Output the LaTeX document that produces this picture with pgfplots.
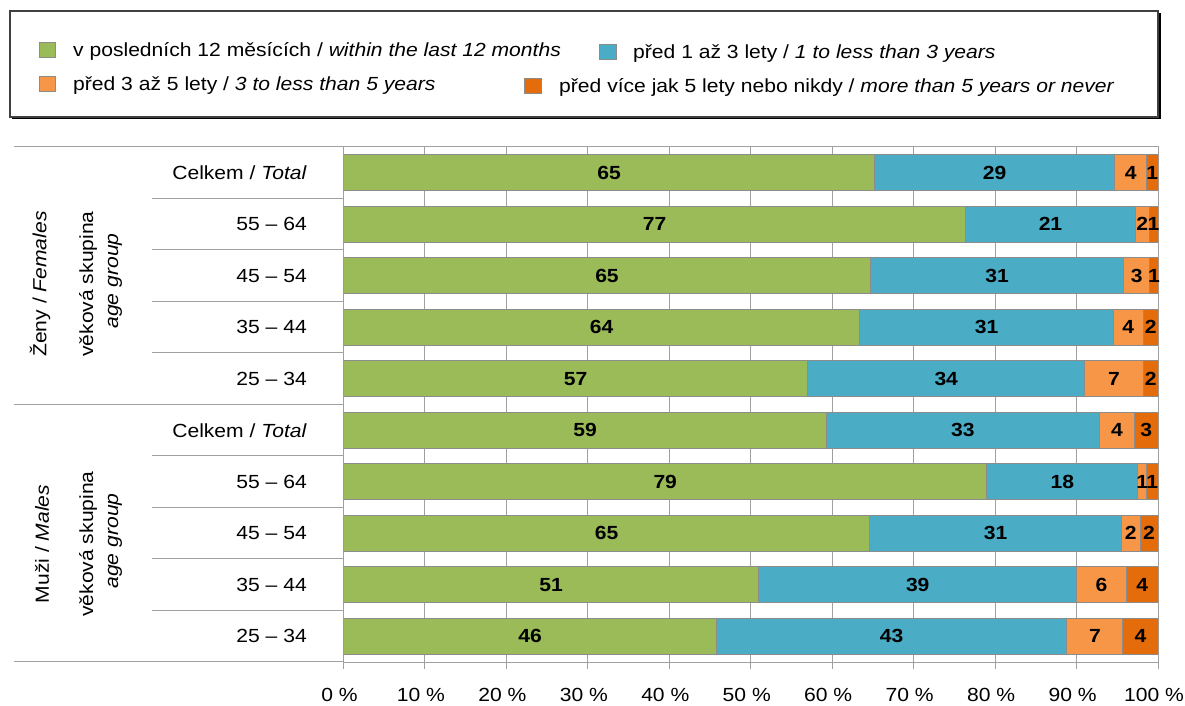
\documentclass[border=0pt]{standalone}
\usepackage{fontspec}
\setmainfont{Liberation Sans}[FakeStretch=1.11]
\usepackage{pgfplots}
\usepackage{pgfplotstable}
\pgfplotsset{compat=1.18}
\definecolor{cgreen}{RGB}{155,187,89}
\definecolor{cblue}{RGB}{75,172,198}
\definecolor{corange}{RGB}{247,150,70}
\definecolor{cdark}{RGB}{228,108,10}
\definecolor{gridgray}{RGB}{160,160,160}
\definecolor{barline}{RGB}{140,140,140}
\newcommand\fsz{\fontsize{19pt}{23pt}\selectfont}
\pgfplotstableread{
y g b o d gl bl ol dl
1 65.2 29.5 3.9 1.4 65 29 4 1
2 76.4 20.8 1.7 1.1 77 21 2 1
3 64.7 31.1 3.2 1.0 65 31 3 1
4 63.4 31.1 3.7 1.8 64 31 4 2
5 57.0 34.0 7.2 1.8 57 34 7 2
6 59.3 33.5 4.3 2.9 59 33 4 3
7 79.0 18.5 1.1 1.4 79 18 1 1
8 64.6 30.9 2.3 2.2 65 31 2 2
9 51.0 39.0 6.1 3.9 51 39 6 4
10 45.8 43.0 6.9 4.3 46 43 7 4
}\data
\begin{document}
\begin{tikzpicture}[font=\fsz]
\useasboundingbox (0pt,0pt) rectangle (1185pt,706pt);
% legend box
\fill[black] (12pt,587pt) rectangle (1160.5pt,693pt);
\draw[fill=white,draw=black!75,line width=1.2pt] (10pt,589pt) rectangle (1158pt,695pt);
\fill[cgreen,draw=barline] (39pt,649pt) rectangle (55pt,664pt);
\node[anchor=base west,inner sep=0pt] at (73pt,649pt) {v posledních 12 měsících / \textit{within the last 12 months}};
\fill[cblue,draw=barline] (599pt,647pt) rectangle (616pt,662pt);
\node[anchor=base west,inner sep=0pt] at (633pt,647pt) {před 1 až 3 lety / \textit{1 to less than 3 years}};
\fill[corange,draw=barline] (39pt,615pt) rectangle (55pt,630pt);
\node[anchor=base west,inner sep=0pt] at (73pt,615pt) {před 3 až 5 lety / \textit{3 to less than 5 years}};
\fill[cdark,draw=barline] (524pt,613pt) rectangle (541pt,628pt);
\node[anchor=base west,inner sep=0pt] at (559pt,613pt) {před více jak 5 lety nebo nikdy / \textit{more than 5 years or never}};
\begin{axis}[
  at={(343.5pt,44pt)}, anchor=south west,
  scale only axis, width=814.5pt, height=515pt,
  xmin=0, xmax=100, ymin=0.5, ymax=10.5, y dir=reverse,
  xbar stacked, bar width=36pt,
  xtick={0,10,...,100},
  xticklabels={0 \%,10 \%,20 \%,30 \%,40 \%,50 \%,60 \%,70 \%,80 \%,90 \%,100 \%},
  xmajorgrids, grid style={draw=gridgray, line width=1pt},
  axis line style={draw=gridgray, line width=1pt},
  tick style={draw=gridgray, line width=1pt},
  tick align=outside, major tick length=7pt,
  xtick pos=lower,
  ytick={1,...,10},
  yticklabels={Celkem / \textit{Total},55 – 64,45 – 54,35 – 44,25 – 34,Celkem / \textit{Total},55 – 64,45 – 54,35 – 44,25 – 34},
  ytick style={draw=none},
  xticklabel style={font=\fsz, inner sep=0pt, yshift=-19pt, xshift=-4pt},
  yticklabel style={font=\fsz, inner sep=0pt, xshift=-29.5pt},
  point meta=explicit symbolic,
  nodes near coords={\pgfplotspointmeta},
  every node near coord/.append style={font=\bfseries\fsz, text=black, anchor=center},
  /pgf/number format/assume math mode=true,
]
\addplot[fill=cgreen, draw=barline, line width=1pt]
  table[x=g, y=y, meta=gl] {\data};
\addplot[fill=cblue, draw=barline, line width=1pt]
  table[x=b, y=y, meta=bl] {\data};
\addplot[fill=corange, draw=barline, line width=1pt]
  table[x=o, y=y, meta=ol] {\data};
\addplot[fill=cdark, draw=barline, line width=1pt]
  table[x=d, y=y, meta=dl] {\data};
\end{axis}
% left side separators
\begin{scope}[draw=gridgray, line width=1pt]
\draw (14pt,559pt) -- (343.5pt,559pt);
\draw (14pt,301.5pt) -- (343.5pt,301.5pt);
\draw (14pt,44pt) -- (343.5pt,44pt);
\foreach \yy in {507.5,456,404.5,353,250,198.5,147,95.5} {
  \draw (152pt,\yy pt) -- (343.5pt,\yy pt);
}
\end{scope}
% group labels
\node[rotate=90] at (40pt,422pt) {Ženy / \textit{Females}};
\node[rotate=90] at (88pt,422pt) {věková skupina};
\node[rotate=90] at (115pt,425pt) {\textit{age group}};
\node[rotate=90] at (42pt,162pt) {Muži / \textit{Males}};
\node[rotate=90] at (88pt,162pt) {věková skupina};
\node[rotate=90] at (115pt,165pt) {\textit{age group}};
\end{tikzpicture}
\end{document}
